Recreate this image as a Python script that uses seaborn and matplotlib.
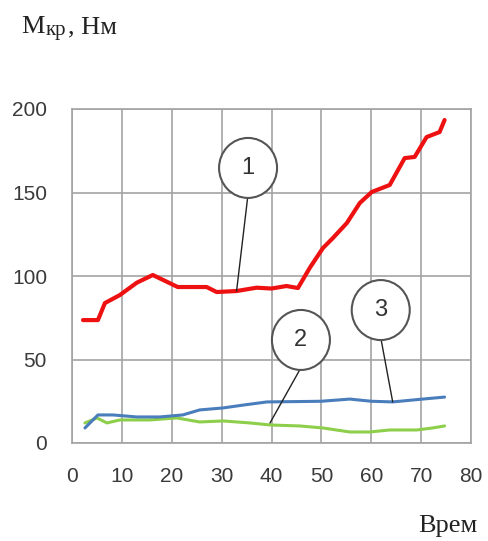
import matplotlib
matplotlib.use("Agg")
import matplotlib.pyplot as plt
from matplotlib.patches import Ellipse
import seaborn as sns
import pandas as pd

# --- data ---
red_x = [2.2, 5.2, 6.6, 9.6, 13, 16.2, 21.2, 27, 29, 33, 37, 40, 43, 45.3, 47.7, 50.3,
         52.3, 55.1, 57.7, 60.1, 63.7, 66.7, 68.7, 71.1, 73.7, 74.7]
red_y = [73.6, 73.6, 83.8, 88.6, 96, 100.6, 93.4, 93.4, 90.4, 91, 93, 92.5, 94, 92.8, 105,
         116.7, 122.7, 131.7, 143.7, 150.3, 154.5, 170.6, 171.3, 183.2, 186.2, 193.4]
blue_x = [2.6, 5.2, 8.2, 13, 17.6, 22.2, 25.6, 30.3, 34.3, 39.1, 45, 50, 55.7, 60, 64.3, 70.3, 74.7]
blue_y = [9, 16.8, 16.8, 15.6, 15.6, 16.8, 19.8, 21, 22.7, 24.6, 24.8, 25, 26.3, 25, 24.6, 26.3, 27.5]
green_x = [2.6, 5, 7, 9.6, 15.6, 21, 25.6, 30.3, 35.7, 39.7, 45.7, 50.3, 55.7, 59.7, 63.7,
           69.1, 72.3, 74.7]
green_y = [12, 15, 12, 13.8, 13.8, 15, 12.6, 13.2, 12, 10.8, 10.2, 9, 6.6, 6.6, 7.8, 7.8, 9, 10.2]

series_names = ["1", "2", "3"]
x_ticks = [0, 10, 20, 30, 40, 50, 60, 70, 80]
y_ticks = [0, 50, 100, 150, 200]

# annotation labels: (label, circle centre x, y, leader end x, y)
labels = ["1", "2", "3"]
circle_x = [35.3, 45.9, 61.9]
circle_y = [164.7, 61.7, 79.6]
leader_x = [33.0, 39.7, 64.3]
leader_y = [91.0, 12.0, 24.6]

df = pd.concat([
    pd.DataFrame({"x": red_x, "y": red_y, "s": "1"}),
    pd.DataFrame({"x": green_x, "y": green_y, "s": "2"}),
    pd.DataFrame({"x": blue_x, "y": blue_y, "s": "3"}),
])

sns.set_theme(style="white")
plt.rcParams["font.family"] = ["Liberation Sans", "DejaVu Sans"]

fig = plt.figure(figsize=(4.88, 5.41), dpi=100)
ax = fig.add_axes([72 / 488, 1 - 443 / 541, (471 - 72) / 488, (443 - 109) / 541])

grid_c = "#a3a3a3"
for xv in x_ticks:
    ax.axvline(xv, color=grid_c, lw=1.2, zorder=0)
for yv in y_ticks:
    ax.axhline(yv, color=grid_c, lw=1.2, zorder=0)

palette = {"1": "#ee1111", "2": "#8dcf4a", "3": "#4a7dbb"}
widths = {"1": 3.0, "2": 2.2, "3": 2.2}
for s in ["2", "3", "1"]:
    sub = df[df["s"] == s]
    sns.lineplot(data=sub, x="x", y="y", color=palette[s], lw=widths[s], ax=ax,
                 estimator=None, sort=False, legend=False, zorder=3)

ax.set_xlim(0, 80)
ax.set_ylim(0, 200)
ax.set_xticks(x_ticks)
ax.set_yticks(y_ticks)
ax.set_xlabel("")
ax.set_ylabel("")
for sp in ax.spines.values():
    sp.set_color(grid_c)
    sp.set_linewidth(1.2)
ax.tick_params(axis="both", direction="out", length=6, width=1.2, color=grid_c,
               labelsize=15, labelcolor="#3a3a3a")
ax.tick_params(axis="x", pad=11)
ax.tick_params(axis="y", pad=12)

# circled annotations
rx = 29 / (399 / 80)
ry = 30 / (334 / 200)
for lab, cx, cy, lx, ly in zip(labels, circle_x, circle_y, leader_x, leader_y):
    ax.add_patch(Ellipse((cx, cy), 2 * rx, 2 * ry, facecolor="white", edgecolor="#555555",
                         lw=1.5, zorder=5, clip_on=False))
    ax.text(cx, cy, lab, ha="center", va="center", fontsize=17, color="#333333", zorder=6)
    ax.plot([cx + (lx - cx) * 0.04, lx], [cy - ry, ly], color="#222222", lw=1.0, zorder=4)

# axis titles (serif)
serif = ["Liberation Serif", "DejaVu Serif"]
fig.text(21 / 488, 1 - 33 / 541, "M", family=serif, fontsize=19, color="#222222",
         ha="left", va="baseline")
fig.text(46 / 488, 1 - 35 / 541, "кр", family=serif, fontsize=15, color="#222222",
         ha="left", va="baseline")
fig.text(68 / 488, 1 - 33 / 541, ", Нм", family=serif, fontsize=19, color="#222222",
         ha="left", va="baseline")
fig.text(418 / 488, 1 - 532 / 541, "Врем", family=serif, fontsize=19, color="#222222",
         ha="left", va="baseline")

fig.savefig("out.png", dpi=100)
